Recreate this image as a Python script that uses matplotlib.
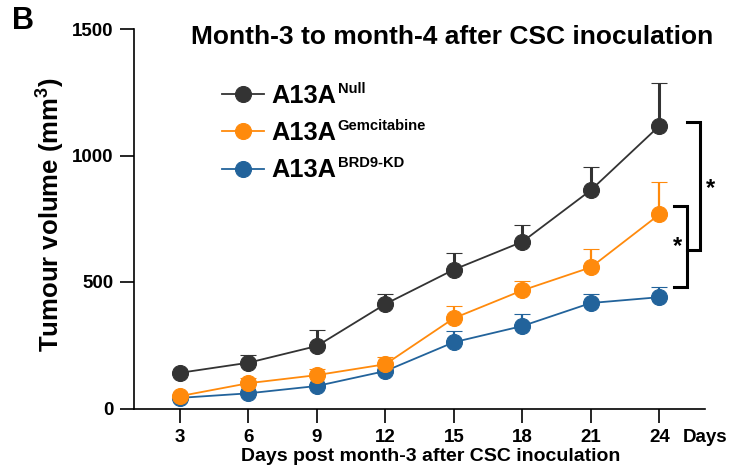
import numpy as np
import matplotlib.pyplot as plt

plt.rcParams['font.family'] = ['Liberation Sans', 'DejaVu Sans']
plt.rcParams['font.weight'] = 'bold'
plt.rcParams['mathtext.fontset'] = 'custom'
plt.rcParams['mathtext.rm'] = 'Liberation Sans:bold'
plt.rcParams['mathtext.bf'] = 'Liberation Sans:bold'
plt.rcParams['mathtext.it'] = 'Liberation Sans:bold'

# --- Data (mean, upper SEM) ---
days = [3, 6, 9, 12, 15, 18, 21, 24]

null_mean = [141, 181, 247, 413, 549, 659, 863, 1117]
null_err = [0, 30, 63, 38, 67, 65, 93, 168]

gem_mean = [49, 100, 132, 175, 357, 467, 558, 767]
gem_err = [0, 22, 24, 28, 48, 38, 72, 129]

kd_mean = [42, 60, 89, 148, 262, 326, 417, 440]
kd_err = [0, 0, 0, 0, 46, 47, 35, 40]

groups = ['Null', 'Gemcitabine', 'BRD9-KD']
colors = {'Null': '#333333', 'Gemcitabine': '#ff8a0c', 'BRD9-KD': '#22639b'}
values = {'Null': (null_mean, null_err, 2.2),
          'Gemcitabine': (gem_mean, gem_err, 1.6),
          'BRD9-KD': (kd_mean, kd_err, 1.6)}

fig = plt.figure(figsize=(7.47, 4.72), dpi=100)
W, H = 747, 472
x0, x1, y0, y1 = 134.3, 705, 408.5, 29
ax = fig.add_axes([x0 / W, (H - y0) / H, (x1 - x0) / W, (y0 - y1) / H])

# blue first so the orange markers sit on top of it
handles = {}
for g in ['Null', 'BRD9-KD', 'Gemcitabine']:
    mean, err, ew = values[g]
    col = colors[g]
    zero = np.zeros(len(err))
    h = ax.errorbar(days, mean, yerr=[zero, err], color=col, lw=1.3,
                    marker='o', ms=11.5, mec=col, mew=0.8,
                    elinewidth=ew, capsize=5.8, capthick=ew, clip_on=False)
    handles[g] = h[0]

leg = ax.legend([handles[g] for g in groups], ['A13A'] * 3, loc='upper left',
                bbox_to_anchor=(222 / W, 1 - 84 / H),
                bbox_transform=fig.transFigure, frameon=False,
                fontsize=18.3, handlelength=1.65, handletextpad=0.3,
                labelspacing=0.52, borderpad=0, borderaxespad=0)

# superscripts next to each legend label
fig.canvas.draw()
renderer = fig.canvas.get_renderer()
inv = fig.transFigure.inverted()
for txt, g in zip(leg.get_texts(), groups):
    bb = txt.get_window_extent(renderer)
    fx, fy = inv.transform((bb.x1 + 1, bb.y1 + 2))
    fig.text(fx, fy, g, fontsize=10.6, fontweight='bold', ha='left', va='top')

# --- Significance brackets ---
bk = dict(color='black', lw=2.2, clip_on=False, solid_joinstyle='miter')
ax.plot([25.21, 25.77, 25.77, 25.21], [1133, 1133, 626, 626], **bk)
ax.plot([24.66, 25.21, 25.21, 24.66], [800, 800, 481, 481], **bk)
ax.text(26.24, 871, '*', fontsize=17, fontweight='bold', ha='center', va='center')
ax.text(24.8, 640, '*', fontsize=17, fontweight='bold', ha='center', va='center')

# --- Axes styling ---
ax.set_xlim(1, 26)
ax.set_ylim(0, 1500)
ax.set_xticks(days)
ax.set_yticks([0, 500, 1000, 1500])
for s in ['top', 'right']:
    ax.spines[s].set_visible(False)
for s in ['left', 'bottom']:
    ax.spines[s].set_linewidth(1.2)
ax.tick_params(axis='both', direction='out', length=10, width=1.2,
               pad=5, labelsize=13.5)
for lbl in ax.get_xticklabels() + ax.get_yticklabels():
    lbl.set_fontweight('bold')

ax.set_ylabel(r'Tumour volume (mm$^{3}$)', fontsize=18.5, fontweight='bold')
ax.yaxis.set_label_coords(-0.118, 0.51)
ax.set_xlabel('Days post month-3 after CSC inoculation', fontsize=14,
              fontweight='bold')
ax.xaxis.set_label_coords(0.52, -0.105)

fig.text(683 / W, 1 - 437 / H, 'Days', fontsize=13.5, fontweight='bold',
         ha='left', va='center')
fig.text(452 / W, 1 - 37 / H, 'Month-3 to month-4 after CSC inoculation',
         fontsize=19, fontweight='bold', ha='center', va='center')
fig.text(12 / W, 1 - 21 / H, 'B', fontsize=22, fontweight='bold',
         ha='left', va='center')

fig.savefig('out.png', dpi=100)
